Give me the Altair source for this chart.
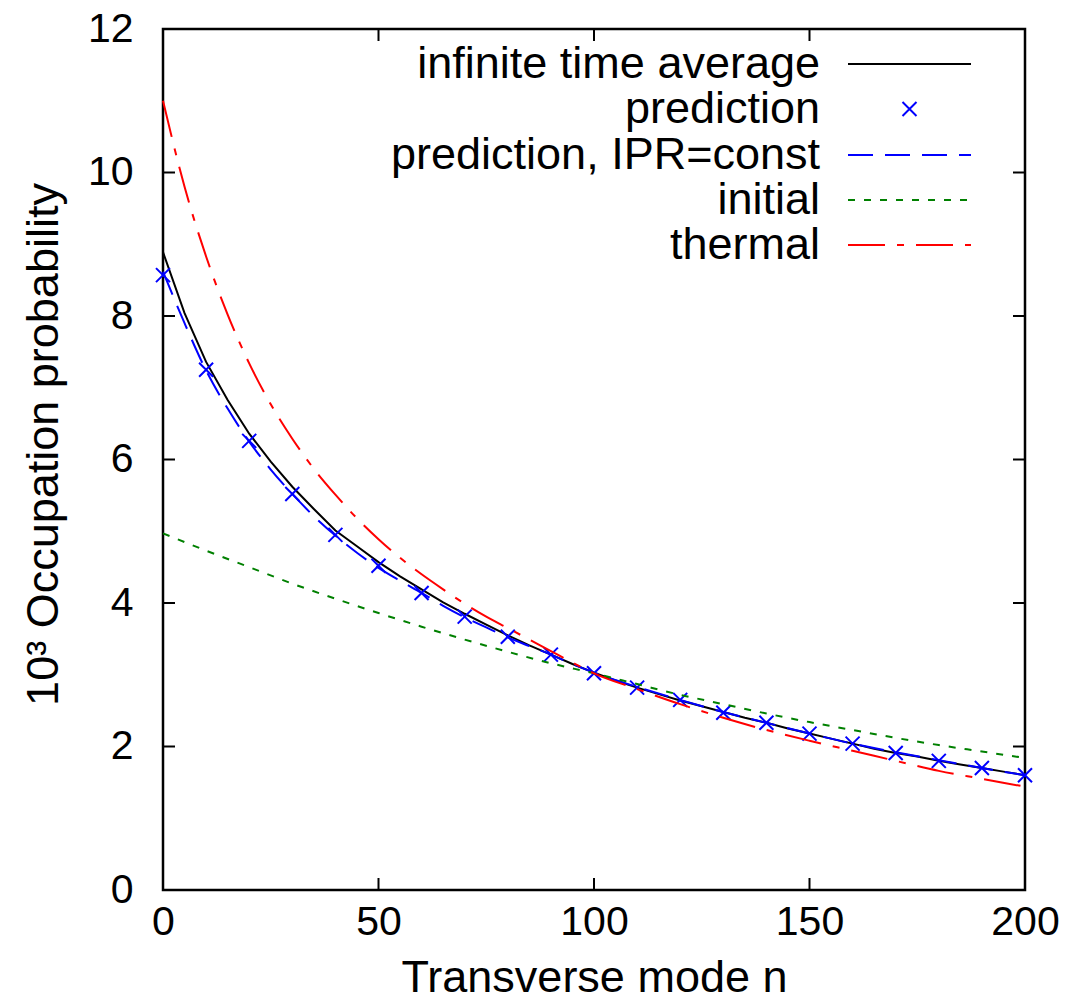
import altair as alt
import pandas as pd

# ---------------- data ----------------
avg_n = list(range(0, 201, 5))
avg_p = [8.89, 8.04, 7.36, 6.83, 6.36, 5.97, 5.62, 5.31, 5.01, 4.79,
         4.57, 4.37, 4.19, 4.01, 3.85, 3.70, 3.55, 3.41, 3.28, 3.15,
         3.03, 2.92, 2.82, 2.73, 2.64, 2.56, 2.48, 2.40, 2.33, 2.25,
         2.18, 2.11, 2.04, 1.97, 1.91, 1.86, 1.80, 1.75, 1.70, 1.65, 1.60]

pred_n = list(range(0, 201, 10))
pred_p = [8.57, 7.25, 6.26, 5.52, 4.95, 4.52, 4.14, 3.81, 3.53, 3.28, 3.02,
          2.82, 2.65, 2.47, 2.33, 2.18, 2.04, 1.91, 1.80, 1.70, 1.60]

ipr_n = list(range(0, 101, 5)) + list(range(110, 201, 10))
ipr_p = [8.62, 7.90, 7.24, 6.71, 6.25, 5.86, 5.52, 5.21, 4.94, 4.70,
         4.49, 4.31, 4.14, 3.96, 3.80, 3.66, 3.52, 3.40, 3.28, 3.15, 3.03,
         2.83, 2.65, 2.48, 2.33, 2.18, 2.04, 1.92, 1.81, 1.70, 1.60]

init_n = list(range(0, 201, 10))
init_p = [4.97, 4.73, 4.50, 4.27, 4.06, 3.86, 3.67, 3.49, 3.32, 3.16, 3.02,
          2.87, 2.72, 2.59, 2.46, 2.34, 2.23, 2.12, 2.02, 1.93, 1.84]

therm_n = list(range(0, 101, 5)) + list(range(110, 201, 10))
therm_p = [11.0, 9.80, 8.83, 8.02, 7.34, 6.77, 6.29, 5.87, 5.51, 5.18,
           4.89, 4.63, 4.40, 4.19, 3.99, 3.81, 3.65, 3.49, 3.33, 3.17, 3.02,
           2.80, 2.59, 2.40, 2.23, 2.08, 1.94, 1.80, 1.66, 1.55, 1.44]

x_ticks = [0, 50, 100, 150, 200]
y_ticks = [0, 2, 4, 6, 8, 10, 12]

legend_labels = ["infinite time average", "prediction", "prediction, IPR=const",
                 "initial", "thermal"]

# ---------------- styling ----------------
FONT = "Liberation Sans"
W, H = 862, 861
TICK = 12
BLACK, BLUE, GREEN, RED = "#000000", "#0000ff", "#008000", "#ff0000"
CROSS = "M-1,-1L1,1M-1,1L1,-1"

x_axis = alt.Axis(values=x_ticks, ticks=False, tickSize=0, domain=False, grid=False,
                  labelFont=FONT, labelFontSize=41, labelColor="black",
                  labelPadding=12, labelFlush=False, labelOverlap=False,
                  title="Transverse mode n", titleFont=FONT, titleFontSize=45,
                  titleFontWeight="normal", titleColor="black",
                  titleY=101, titleBaseline="alphabetic")
y_axis = alt.Axis(values=y_ticks, ticks=False, tickSize=0, domain=False, grid=False,
                  labelFont=FONT, labelFontSize=41, labelColor="black",
                  labelPadding=30, labelFlush=False, labelOverlap=False,
                  title="10³ Occupation probability", titleFont=FONT, titleFontSize=45,
                  titleFontWeight="normal", titleColor="black",
                  titleX=-106, titleY=415, titleBaseline="alphabetic")

x_enc = alt.X("n:Q", scale=alt.Scale(domain=[0, 200], nice=False, zero=False), axis=x_axis)
y_enc = alt.Y("p:Q", scale=alt.Scale(domain=[0, 12], nice=False, zero=False), axis=y_axis)


def df(n, p):
    return pd.DataFrame({"n": n, "p": p})


avg_layer = alt.Chart(df(avg_n, avg_p)).mark_line(color=BLACK, strokeWidth=2).encode(x=x_enc, y=y_enc)
pred_layer = alt.Chart(df(pred_n, pred_p)).mark_point(
    shape=CROSS, size=196, filled=False, stroke=BLUE, strokeWidth=2, opacity=1
).encode(x=x_enc, y=y_enc)
ipr_layer = alt.Chart(df(ipr_n, ipr_p)).mark_line(
    color=BLUE, strokeWidth=2, strokeDash=[25, 12], interpolate="monotone"
).encode(x=x_enc, y=y_enc)
init_layer = alt.Chart(df(init_n, init_p)).mark_line(
    color=GREEN, strokeWidth=2, strokeDash=[7, 9], interpolate="monotone"
).encode(x=x_enc, y=y_enc)
therm_layer = alt.Chart(df(therm_n, therm_p)).mark_line(
    color=RED, strokeWidth=2, strokeDash=[37, 12, 7, 12], interpolate="monotone"
).encode(x=x_enc, y=y_enc)

# inward tick marks on all four sides
xt = pd.DataFrame({"n": x_ticks})
yt = pd.DataFrame({"p": y_ticks})
tick_style = dict(color="black", strokeWidth=2)
ticks_bottom = alt.Chart(xt).mark_rule(**tick_style).encode(x=x_enc, y=alt.value(H), y2=alt.value(H - TICK))
ticks_top = alt.Chart(xt).mark_rule(**tick_style).encode(x=x_enc, y=alt.value(0), y2=alt.value(TICK))
ticks_left = alt.Chart(yt).mark_rule(**tick_style).encode(y=y_enc, x=alt.value(0), x2=alt.value(TICK))
ticks_right = alt.Chart(yt).mark_rule(**tick_style).encode(y=y_enc, x=alt.value(W - TICK), x2=alt.value(W))

# ---------------- legend (drawn inside the plot, top right) ----------------
LEG_TEXT_X = 657
LEG_X1, LEG_X2 = 685, 808
LEG_ROWS = [35, 80, 126, 171, 216]
one = pd.DataFrame({"k": [0]})

legend_layers = []
for lab, yy in zip(legend_labels, LEG_ROWS):
    legend_layers.append(
        alt.Chart(pd.DataFrame({"label": [lab]})).mark_text(
            align="right", baseline="middle", font=FONT, fontSize=45, color="black"
        ).encode(text="label:N", x=alt.value(LEG_TEXT_X), y=alt.value(yy))
    )

sample_styles = [
    dict(color=BLACK, strokeWidth=2),
    None,
    dict(color=BLUE, strokeWidth=2, strokeDash=[25, 12]),
    dict(color=GREEN, strokeWidth=2, strokeDash=[7, 9]),
    dict(color=RED, strokeWidth=2, strokeDash=[37, 12, 7, 12]),
]
for style, yy in zip(sample_styles, LEG_ROWS):
    if style is None:
        legend_layers.append(
            alt.Chart(one).mark_point(shape=CROSS, size=196, filled=False, stroke=BLUE,
                                      strokeWidth=2, opacity=1)
            .encode(x=alt.value((LEG_X1 + LEG_X2) / 2), y=alt.value(yy))
        )
    else:
        legend_layers.append(
            alt.Chart(one).mark_rule(**style)
            .encode(x=alt.value(LEG_X1), x2=alt.value(LEG_X2), y=alt.value(yy))
        )

chart = alt.layer(
    avg_layer, pred_layer, ipr_layer, init_layer, therm_layer,
    ticks_bottom, ticks_top, ticks_left, ticks_right,
    *legend_layers
).properties(
    width=W, height=H,
    autosize=alt.AutoSizeParams(type="none"),
    padding={"left": 155, "top": 21, "right": 40, "bottom": 105},
).configure(
    background="white"
).configure_view(
    stroke="black", strokeWidth=2.5
)

chart.save("out.html", embed_options={"renderer": "svg", "actions": False})
